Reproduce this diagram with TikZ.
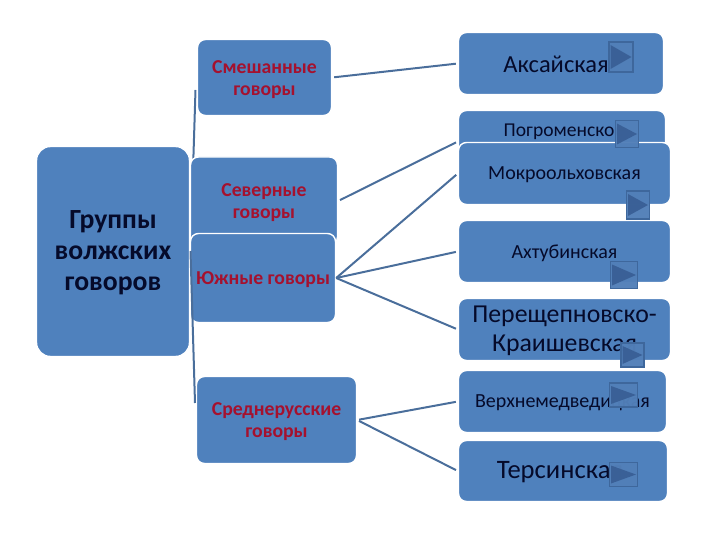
\documentclass[tikz,border=0pt]{standalone}
\usepackage{fontspec}
\setmainfont{Carlito}
\definecolor{boxblue}{HTML}{4F81BD}
\definecolor{linkblue}{HTML}{4A6E9B}
\definecolor{redtext}{HTML}{A5112E}
\definecolor{darktext}{HTML}{050A2A}
\definecolor{btnedge}{HTML}{3E679C}
\definecolor{btnfill}{HTML}{527FB8}
\definecolor{btntri}{HTML}{3A6096}
\newcommand{\dn}[1]{\raisebox{-1.6pt}[\height][\depth]{#1}}
\tikzset{
  box/.style={draw=white,line width=1.4pt,fill=boxblue,rounded corners=8pt,inner sep=0pt,align=center,text=darktext},
  redbox/.style={box,text=redtext,font=\bfseries\fontsize{19.7}{22}\selectfont},
  link/.style={draw=linkblue,line width=2pt,shorten <=2pt,shorten >=2pt},
  btn/.style={draw=btnedge,line width=1.6pt,fill=btnfill,fill opacity=.97,inner sep=0pt,minimum width=23pt,minimum height=27pt,
    path picture={\fill[btntri] ([xshift=1.5pt,yshift=-3pt]path picture bounding box.north west) -- ([xshift=-1.5pt]path picture bounding box.east) -- ([xshift=1.5pt,yshift=3pt]path picture bounding box.south west) -- cycle;}}
}
\begin{document}
\begin{tikzpicture}[x=1pt,y=-1pt]
\useasboundingbox (0,0) rectangle (720,540);
\coordinate (tp) at (195.5,90);
\coordinate (md) at (190.5,251);
\coordinate (bt) at (195,403);
\draw[draw=linkblue,line width=2pt] (tp) -- (md);
\node[redbox,minimum width=134pt,minimum height=76pt] (sm) at (264.5,77.5) {\dn{Смешанные}\\\dn{говоры}};
\node[box,minimum width=205pt,minimum height=62pt] (ak) at (561,63.5) {};
\node[font=\fontsize{24.5}{29}\selectfont,text=darktext] (akt) at (556,64.5) {Аксайская};
\node[box,minimum width=207pt,minimum height=62pt] (po) at (562,141.5) {};
\node[font=\fontsize{19.6}{22}\selectfont,text=darktext] (pot) at (564,131.5) {Погроменское};
\node[box,minimum width=212pt,minimum height=62pt,font=\fontsize{20}{24}\selectfont] (mo) at (564.5,173.5) {\dn{Мокроольховская}};
\node[box,minimum width=212pt,minimum height=62pt,font=\fontsize{20}{24}\selectfont] (ah) at (564.5,251.5) {\dn{Ахтубинская}};
\node[box,minimum width=212pt,minimum height=62pt,font=\fontsize{25.8}{29}\selectfont] (pe) at (564.5,329.5) {\dn{Перещепновско-}\\\dn{Краишевская}};
\node[box,minimum width=208pt,minimum height=62pt,font=\fontsize{20}{24}\selectfont] (ve) at (562.5,401.5) {\dn{Верхнемедведицкая}};
\node[box,minimum width=209pt,minimum height=61pt] (te) at (563,471) {};
\node[font=\fontsize{26.6}{30}\selectfont,text=darktext] (tet) at (560,472.5) {Терсинская};
\node[redbox,minimum width=147pt,minimum height=88pt] (se) at (264,201) {\dn{Северные}\\\dn{говоры}};
\node[redbox,minimum width=145pt,minimum height=89pt] (yu) at (263,278) {\dn{Южные говоры}};
\node[redbox,minimum width=160pt,minimum height=87pt] (sr) at (276.5,420) {\dn{Среднерусские}\\\dn{говоры}};
\node[box,minimum width=153pt,minimum height=210pt,rounded corners=14pt,font=\bfseries\fontsize{27.7}{31}\selectfont] (gr) at (113,251.5) {\dn{Группы}\\\dn{волжских}\\\dn{говоров}};
\draw[draw=linkblue,line width=2pt] (md) -- (bt);
\draw[link] (sm.east) -- (ak.west);
\draw[link] (se.east) -- (po.west);
\draw[link,shorten <=0pt] (yu.east) -- (mo.west);
\draw[link,shorten <=0pt] (yu.east) -- (ah.west);
\draw[link,shorten <=0pt] (yu.east) -- (pe.west);
\draw[link] (sr.east) -- (ve.west);
\draw[link] (sr.east) -- (te.west);
\node[btn,minimum width=24pt,minimum height=30pt] (b1) at (621,57) {};
\node[btn] (b2) at (627,134) {};
\node[btn,minimum height=28pt] (b3) at (638,205) {};
\node[btn,minimum width=27pt] (b4) at (624,275) {};
\node[btn,minimum height=24pt] (b5) at (632.5,355) {};
\node[btn,minimum width=28pt,minimum height=24pt] (b6) at (623.5,395) {};
\node[btn,minimum width=28pt,minimum height=24pt] (b7) at (623.5,474.5) {};
\end{tikzpicture}
\end{document}
